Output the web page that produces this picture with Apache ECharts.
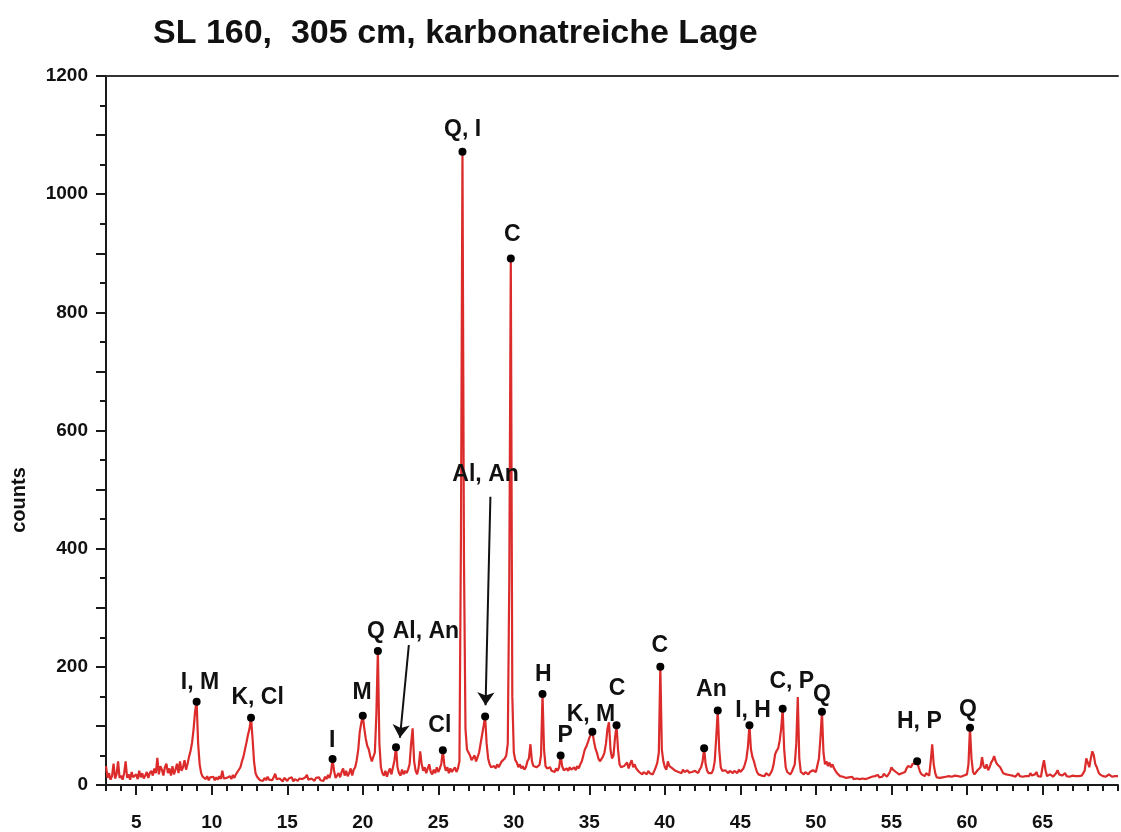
<!DOCTYPE html>
<html><head><meta charset="utf-8">
<script src="https://cdn.jsdelivr.net/npm/echarts@6.0.0/dist/echarts.min.js"></script>
<style>html,body{margin:0;padding:0;background:#fff}#c{width:1121px;height:832px}</style>
</head><body><div id="c"></div><script>
// 2-theta scan: start and step of the measured points
const startTwoTheta = 3.0;
const stepTwoTheta = 0.1;
// counts, one row per degree (x.0 ... x.9)
const counts = [
/* 3 */ 32, 12, 20, 9, 15, 36, 11, 18, 40, 12,
/* 4 */ 16, 9, 20, 40, 12, 18, 9, 22, 13, 11,
/* 5 */ 18, 10, 24, 13, 20, 11, 16, 22, 12, 20,
/* 6 */ 24, 16, 28, 20, 46, 18, 32, 26, 16, 30,
/* 7 */ 36, 20, 28, 16, 32, 18, 26, 36, 20, 40,
/* 8 */ 24, 30, 42, 26, 36, 48, 58, 72, 95, 125,
/* 9 */ 141, 70, 35, 20, 14, 12, 10, 15, 8, 13,
/*10 */ 10, 14, 8, 13, 9, 15, 10, 24, 11, 8,
/*11 */ 12, 9, 15, 10, 17, 12, 18, 22, 25, 30,
/*12 */ 40, 48, 60, 72, 85, 95, 114, 80, 40, 20,
/*13 */ 14, 12, 8, 11, 7, 12, 8, 14, 9, 11,
/*14 */ 8, 13, 19, 10, 7, 11, 8, 6, 12, 9,
/*15 */ 7, 11, 8, 13, 6, 10, 12, 7, 11, 8,
/*16 */ 10, 7, 13, 17, 9, 6, 11, 8, 7, 12,
/*17 */ 9, 13, 8, 11, 7, 14, 10, 17, 12, 22,
/*18 */ 44, 24, 12, 15, 20, 13, 22, 28, 16, 24,
/*19 */ 15, 20, 28, 16, 26, 30, 42, 60, 90, 105,
/*20 */ 117, 96, 78, 66, 60, 48, 40, 38, 55, 120,
/*21 */ 227, 70, 30, 20, 16, 24, 14, 22, 28, 18,
/*22 */ 30, 42, 64, 30, 20, 16, 26, 18, 24, 20,
/*23 */ 26, 35, 70, 96, 40, 24, 18, 30, 57, 35,
/*24 */ 24, 30, 20, 28, 35, 22, 18, 26, 20, 30,
/*25 */ 22, 28, 36, 59, 34, 24, 30, 20, 28, 22,
/*26 */ 26, 30, 22, 28, 40, 420, 1072, 380, 95, 60,
/*27 */ 55, 50, 42, 46, 50, 40, 47, 55, 70, 85,
/*28 */ 100, 116, 70, 45, 35, 30, 28, 32, 28, 35,
/*29 */ 30, 35, 40, 38, 45, 50, 70, 350, 891, 150,
/*30 */ 55, 42, 38, 30, 35, 28, 32, 26, 30, 40,
/*31 */ 45, 69, 40, 32, 35, 30, 28, 34, 50, 154,
/*32 */ 60, 32, 28, 25, 30, 24, 26, 22, 28, 24,
/*33 */ 30, 50, 32, 25, 22, 28, 24, 30, 26, 28,
/*34 */ 30, 25, 32, 28, 35, 40, 50, 60, 65, 72,
/*35 */ 80, 85, 90, 75, 62, 55, 45, 40, 42, 48,
/*36 */ 55, 70, 95, 106, 60, 45, 50, 80, 101, 60,
/*37 */ 35, 30, 28, 32, 30, 38, 28, 36, 42, 30,
/*38 */ 35, 28, 30, 22, 20, 18, 22, 20, 18, 24,
/*39 */ 20, 22, 18, 24, 30, 38, 55, 200, 60, 40,
/*40 */ 30, 26, 40, 32, 35, 28, 30, 24, 26, 22,
/*41 */ 24, 20, 26, 22, 20, 25, 21, 24, 22, 20,
/*42 */ 24, 22, 20, 26, 30, 40, 62, 35, 24, 20,
/*43 */ 22, 20, 26, 40, 80, 126, 60, 30, 24, 22,
/*44 */ 25, 22, 20, 24, 22, 20, 24, 22, 20, 26,
/*45 */ 22, 24, 28, 35, 45, 65, 101, 60, 47, 40,
/*46 */ 30, 22, 18, 20, 16, 18, 15, 20, 18, 16,
/*47 */ 20, 25, 35, 52, 58, 62, 75, 95, 129, 60,
/*48 */ 30, 22, 20, 18, 22, 25, 35, 70, 149, 45,
/*49 */ 22, 20, 18, 22, 20, 18, 22, 20, 25, 22,
/*50 */ 22, 25, 45, 80, 124, 55, 35, 40, 32, 38,
/*51 */ 30, 35, 28, 24, 20, 18, 15, 13, 14, 12,
/*52 */ 12, 10, 13, 11, 14, 10, 12, 11, 13, 10,
/*53 */ 12, 11, 14, 10, 13, 12, 11, 14, 12, 15,
/*54 */ 14, 17, 13, 16, 14, 19, 16, 14, 18, 22,
/*55 */ 30, 26, 28, 22, 20, 18, 16, 20, 18, 22,
/*56 */ 28, 32, 35, 30, 36, 33, 36, 40, 30, 22,
/*57 */ 18, 20, 15, 20, 18, 16, 40, 69, 35, 20,
/*58 */ 13, 16, 12, 15, 13, 16, 14, 12, 15, 13,
/*59 */ 14, 12, 16, 13, 15, 12, 14, 13, 16, 14,
/*60 */ 18, 35, 97, 45, 22, 18, 20, 25, 22, 30,
/*61 */ 47, 32, 28, 35, 25, 30, 38, 42, 49, 40,
/*62 */ 35, 38, 30, 25, 20, 22, 18, 15, 17, 14,
/*63 */ 16, 18, 14, 17, 20, 15, 18, 14, 16, 15,
/*64 */ 18, 15, 20, 16, 14, 18, 22, 15, 17, 14,
/*65 */ 30, 42, 25, 15, 14, 18, 16, 14, 15, 20,
/*66 */ 25, 18, 15, 16, 14, 20, 15, 16, 14, 15,
/*67 */ 16, 14, 15, 17, 15, 14, 16, 20, 25, 45,
/*68 */ 38, 30, 45, 57, 50, 35, 30, 22, 18, 16,
/*69 */ 15, 17, 14, 16, 18, 15, 14, 16, 15, 14,
/*70 */ 15
];
const xTickLabels = [5, 10, 15, 20, 25, 30, 35, 40, 45, 50, 55, 60, 65];
const yTickLabels = [0, 200, 400, 600, 800, 1000, 1200];
// marked reflections [2theta, counts]
const peakDots = [
  [9.0, 141], [12.6, 114], [18.0, 44], [20.0, 117], [21.0, 227], [22.2, 64],
  [25.3, 59], [26.6, 1072], [28.1, 116], [29.8, 891], [31.9, 154], [33.1, 50],
  [35.2, 90], [36.8, 101], [39.7, 200], [42.6, 62], [43.5, 126], [45.6, 101],
  [47.8, 129], [50.4, 124], [56.7, 40], [60.2, 97]
];
// mineral labels and the point (2theta, counts) where each is written
const labelTexts = ['I, M', 'K, Cl', 'I', 'M', 'Q', 'Al, An', 'Cl', 'Q, I', 'C', 'Al, An', 'H', 'P',
  'K, M', 'C', 'C', 'An', 'I, H', 'C, P', 'Q', 'H, P', 'Q'];
const labelAt = [
  [9.22, 173], [13.04, 148], [17.98, 75], [19.95, 156], [20.88, 260], [24.18, 260], [25.1, 101],
  [26.61, 1109], [29.9, 932], [28.13, 525], [31.95, 186], [33.4, 84], [35.11, 119], [36.83, 163],
  [39.66, 235], [43.08, 161], [45.84, 126], [48.4, 175], [50.4, 153], [56.85, 107], [60.07, 128]
];
// arrows from label to reflection [[from], [to]]
const arrows = [
  [[23.05, 237], [22.46, 80]],
  [[28.45, 488], [28.13, 135]]
];

const profile = counts.map((v, i) => [+(startTwoTheta + i * stepTwoTheta).toFixed(1), v]);
const FONT = 'Liberation Sans, Arial, sans-serif';
const chart = echarts.init(document.getElementById('c'), null, {renderer: 'canvas'});
const axisCol = '#1a1a1a';
chart.setOption({
  animation: false,
  backgroundColor: '#fff',
  title: {
    text: 'SL 160,  305 cm, karbonatreiche Lage',
    left: 148, top: 12,
    textStyle: {fontFamily: FONT, fontSize: 34, fontWeight: 'bold', color: '#111'}
  },
  grid: {left: 106, right: -1, top: 76, bottom: 41, containLabel: false},
  xAxis: [
    {type: 'value', min: 3, max: 70, interval: 1, position: 'bottom',
     axisLine: {show: true, onZero: false, lineStyle: {color: axisCol, width: 2}},
     axisTick: {show: true, length: 6, lineStyle: {color: axisCol, width: 2}},
     axisLabel: {formatter: v => xTickLabels.includes(Math.round(v)) && Math.abs(v - Math.round(v)) < 1e-6 ? String(Math.round(v)) : '',
       fontFamily: FONT, fontSize: 19, fontWeight: 'bold', color: '#111', margin: 28},
     splitLine: {show: false}},
    {type: 'value', min: 3, max: 70, position: 'bottom',
     axisLine: {show: false, onZero: false},
     axisTick: {show: true, length: 10, customValues: xTickLabels, lineStyle: {color: axisCol, width: 2}},
     axisLabel: {show: false}, splitLine: {show: false}},
    {type: 'value', min: 3, max: 70, position: 'top',
     axisLine: {show: true, onZero: false, lineStyle: {color: '#333', width: 2}},
     axisTick: {show: false}, axisLabel: {show: false}, splitLine: {show: false}}
  ],
  yAxis: {
    type: 'value', min: 0, max: 1200, interval: 100,
    axisLine: {show: true, lineStyle: {color: axisCol, width: 2}},
    axisTick: {show: true, length: 10, lineStyle: {color: axisCol, width: 2}},
    minorTick: {show: true, splitNumber: 2, length: 6, lineStyle: {color: axisCol, width: 2}},
    axisLabel: {formatter: v => yTickLabels.includes(v) ? String(v) : '',
      fontFamily: FONT, fontSize: 19, fontWeight: 'bold', color: '#111', margin: 18},
    splitLine: {show: false}
  },
  graphic: [{
    type: 'text', x: 19, y: 500, rotation: Math.PI / 2,
    style: {text: 'counts', font: 'bold 20px ' + FONT, fill: '#111', align: 'center', verticalAlign: 'middle'}
  }],
  series: [
    {type: 'line', data: profile, showSymbol: false, symbol: 'none',
     lineStyle: {color: '#dc2b2b', width: 2.2}, z: 2},
    {type: 'scatter', data: peakDots, symbolSize: 8, itemStyle: {color: '#000', opacity: 1}, z: 5},
    {type: 'scatter', data: labelAt.map((p, i) => ({value: p, name: labelTexts[i]})), symbolSize: 0, z: 6,
     itemStyle: {opacity: 1},
     label: {show: true, position: 'inside', formatter: '{b}', fontFamily: FONT, fontSize: 23, fontWeight: 'bold', color: '#111', opacity: 1}},
    {type: 'lines', coordinateSystem: 'cartesian2d', z: 4,
     data: arrows.map(a => ({coords: a})),
     symbol: ['none', 'arrow'], symbolSize: [0, 13],
     lineStyle: {color: '#111', width: 2, opacity: 1}}
  ]
});
</script></body></html>
